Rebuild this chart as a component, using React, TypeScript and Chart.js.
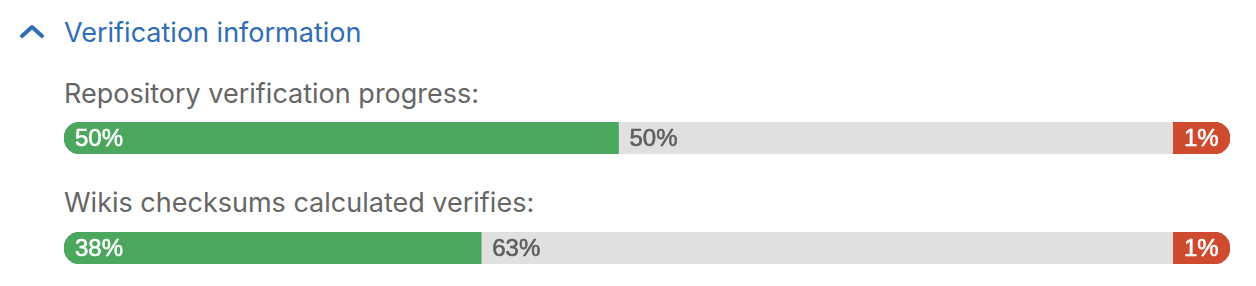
import React, { useEffect, useRef } from 'react';
import { Chart, registerables } from 'chart.js';

Chart.register(...registerables);

// Progress rows: titles and percentages for each segment
const rowTitles = ['Repository verification progress:', 'Wikis checksums calculated verifies:'];
const syncedPct = [50, 38];
const pendingPct = [50, 63];
const failedPct = [1, 1];

const GREEN = '#4ba75e';
const GREY = '#e0e0e0';
const RED = '#cf4a2f';
const TITLE_GREY = '#666666';
const LINK_BLUE = '#2f6db4';

const BAR_WIDTH = 1166;
const BAR_HEIGHT = 32;
const RADIUS = 16;
const LABEL_FONT = '24px "Liberation Sans", Arial, sans-serif';

// Writes each segment's percentage just inside its left edge.
const segmentLabels = {
  id: 'segmentLabels',
  afterDatasetsDraw(chart: any) {
    const ctx = chart.ctx as CanvasRenderingContext2D;
    ctx.save();
    ctx.textBaseline = 'middle';
    ctx.textAlign = 'left';
    ctx.font = LABEL_FONT;
    ctx.lineWidth = 0.6;
    ctx.lineJoin = 'round';
    chart.data.datasets.forEach((ds: any, di: number) => {
      const meta = chart.getDatasetMeta(di);
      meta.data.forEach((bar: any, i: number) => {
        const { x, y, base } = bar.getProps(['x', 'y', 'base'], true);
        const left = Math.min(x, base);
        const text = `${ds.data[i]}%`;
        ctx.fillStyle = ds.labelColor;
        ctx.strokeStyle = ds.labelColor;
        ctx.fillText(text, left + 11, y + 1);
        ctx.strokeText(text, left + 11, y + 1);
      });
    });
    ctx.restore();
  },
};

function ProgressBar({ index }: { index: number }) {
  const ref = useRef<HTMLCanvasElement | null>(null);

  useEffect(() => {
    if (!ref.current) return;
    const synced = syncedPct[index];
    const pending = pendingPct[index];
    const failed = failedPct[index];
    const chart = new Chart(ref.current, {
      type: 'bar',
      data: {
        labels: [rowTitles[index]],
        datasets: [
          {
            label: 'Synced',
            data: [synced],
            backgroundColor: GREEN,
            xAxisID: 'x',
            borderSkipped: false,
            borderRadius: { topLeft: RADIUS, bottomLeft: RADIUS, topRight: 0, bottomRight: 0 },
            labelColor: '#ffffff',
          } as any,
          {
            label: 'Pending',
            data: [pending],
            backgroundColor: GREY,
            xAxisID: 'x',
            borderSkipped: false,
            borderRadius: 0,
            labelColor: '#5e5e5e',
          } as any,
          {
            label: 'Failed',
            data: [failed],
            backgroundColor: RED,
            xAxisID: 'xFailed',
            borderSkipped: false,
            borderRadius: { topLeft: 0, bottomLeft: 0, topRight: RADIUS, bottomRight: RADIUS },
            labelColor: '#ffffff',
          } as any,
        ],
      },
      options: {
        indexAxis: 'y',
        responsive: false,
        animation: false,
        layout: { padding: 0 },
        datasets: { bar: { barPercentage: 1, categoryPercentage: 1 } },
        plugins: { legend: { display: false }, tooltip: { enabled: false }, title: { display: false } },
        scales: {
          y: { display: false, stacked: true },
          x: {
            display: false,
            stacked: true,
            position: 'bottom',
            min: 0,
            max: synced + pending,
            stack: 'progress',
            stackWeight: 1109,
          },
          xFailed: {
            display: false,
            stacked: true,
            position: 'bottom',
            min: 0,
            max: failed,
            stack: 'progress',
            stackWeight: 57,
          },
        },
      } as any,
      plugins: [segmentLabels],
    });
    return () => chart.destroy();
  }, [index]);

  return <canvas ref={ref} width={BAR_WIDTH} height={BAR_HEIGHT} style={{ display: 'block' }} />;
}

const titleStyle: React.CSSProperties = {
  position: 'absolute',
  left: 64,
  fontFamily: 'Inter, "Noto Sans", sans-serif',
  fontSize: 27,
  lineHeight: '32px',
  color: TITLE_GREY,
  whiteSpace: 'nowrap',
};

export default function App() {
  return (
    <div style={{ position: 'absolute', left: 0, top: 0, width: 1256, height: 286, background: '#fff' }}>
      <svg style={{ position: 'absolute', left: 18, top: 22 }} width={30} height={18} viewBox="0 0 30 18">
        <polyline points="4,14 14,5 24,14" fill="none" stroke={LINK_BLUE} strokeWidth={4} strokeLinecap="round" strokeLinejoin="round" />
      </svg>
      <div
        style={{
          position: 'absolute',
          left: 64,
          top: 16,
          fontFamily: 'Inter, "Noto Sans", sans-serif',
          fontSize: 27,
          lineHeight: '33px',
          color: LINK_BLUE,
          whiteSpace: 'nowrap',
        }}
      >
        Verification information
      </div>
      <div style={{ ...titleStyle, top: 78 }}>{rowTitles[0]}</div>
      <div style={{ position: 'absolute', left: 64, top: 122 }}>
        <ProgressBar index={0} />
      </div>
      <div style={{ ...titleStyle, top: 187 }}>{rowTitles[1]}</div>
      <div style={{ position: 'absolute', left: 64, top: 232 }}>
        <ProgressBar index={1} />
      </div>
    </div>
  );
}
